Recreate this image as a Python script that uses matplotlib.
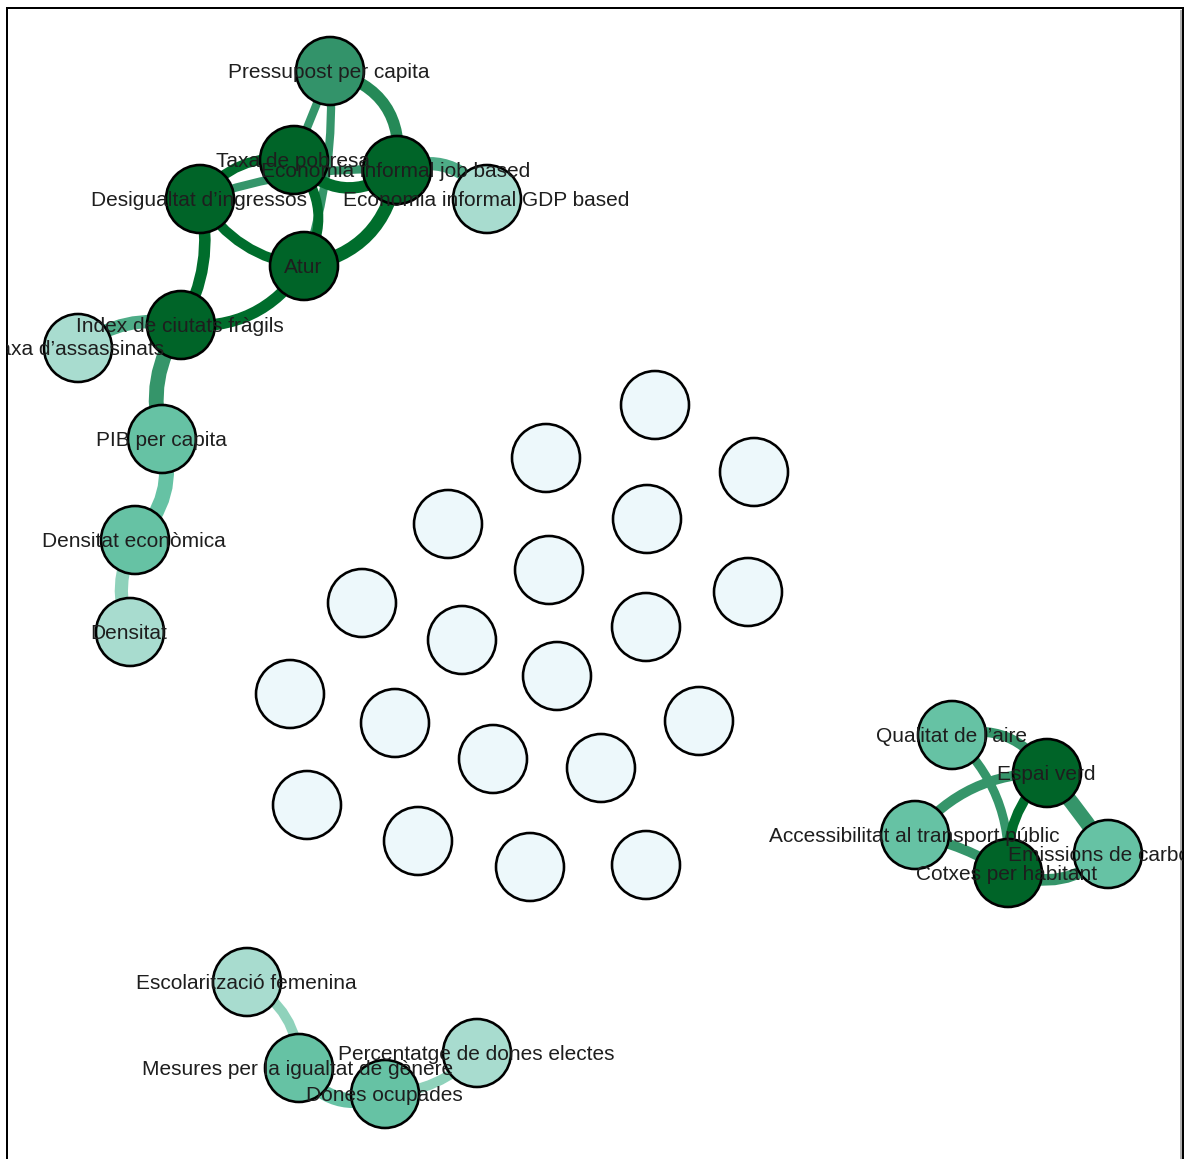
import numpy as np
import matplotlib
matplotlib.use("Agg")
import matplotlib.pyplot as plt
from matplotlib.path import Path
from matplotlib.patches import PathPatch, Circle
from matplotlib.colors import LinearSegmentedColormap

# ---- nodes (layout in px, score level 0..4) ----
names = ["Pressupost per capita", "Taxa de pobresa", "Economia informal job based",
         "Desigualtat d’ingressos", "Economia informal GDP based", "Atur",
         "Index de ciutats fràgils", "Taxa d’assassinats", "PIB per capita",
         "Densitat econòmica", "Densitat",
         "Qualitat de l’aire", "Espai verd", "Accessibilitat al transport públic",
         "Emissions de carboni", "Cotxes per habitant",
         "Escolarització femenina", "Mesures per la igualtat de gènere",
         "Percentatge de dones electes", "Dones ocupades"]
node_x = [330, 294, 397, 200, 487, 304, 181, 78, 162, 135, 130,
          952, 1047, 915, 1108, 1008,
          247, 299, 477, 385]
node_y = [71, 160, 170, 199, 199, 266, 325, 348, 439, 540, 632,
          735, 773, 835, 854, 873,
          982, 1068, 1053, 1094]
node_level = [3, 4, 4, 4, 1, 4, 4, 1, 2, 2, 1,
              2, 4, 2, 2, 4,
              1, 2, 1, 2]

# isolated indicators (no links)
iso_x = [655, 546, 754, 448, 647, 549, 362, 748, 462, 646,
         557, 290, 395, 699, 493, 601, 307, 418, 530, 646]
iso_y = [405, 458, 472, 524, 519, 570, 603, 592, 640, 627,
         676, 694, 723, 721, 759, 768, 805, 841, 867, 865]

# ---- edges ----
edge_src = ["Pressupost per capita", "Pressupost per capita", "Pressupost per capita",
            "Taxa de pobresa", "Desigualtat d’ingressos", "Desigualtat d’ingressos",
            "Economia informal job based", "Taxa de pobresa", "Desigualtat d’ingressos",
            "Economia informal job based", "Desigualtat d’ingressos", "Atur",
            "Index de ciutats fràgils", "Index de ciutats fràgils", "PIB per capita",
            "Densitat econòmica",
            "Qualitat de l’aire", "Qualitat de l’aire", "Accessibilitat al transport públic",
            "Accessibilitat al transport públic", "Espai verd", "Espai verd",
            "Emissions de carboni",
            "Escolarització femenina", "Mesures per la igualtat de gènere", "Dones ocupades"]
edge_dst = ["Economia informal job based", "Taxa de pobresa", "Atur",
            "Economia informal job based", "Taxa de pobresa", "Economia informal job based",
            "Economia informal GDP based", "Atur", "Atur",
            "Atur", "Index de ciutats fràgils", "Index de ciutats fràgils",
            "Taxa d’assassinats", "PIB per capita", "Densitat econòmica",
            "Densitat",
            "Espai verd", "Cotxes per habitant", "Espai verd",
            "Cotxes per habitant", "Cotxes per habitant", "Emissions de carboni",
            "Cotxes per habitant",
            "Mesures per la igualtat de gènere", "Dones ocupades", "Percentatge de dones electes"]
edge_weight = [3.3, 3.0, 3.0, 4.0, 4.0, 3.0, 2.5, 4.0, 4.0, 4.0, 4.0, 4.0, 2.5, 3.0, 2.0, 1.5,
               3.0, 3.0, 3.0, 3.0, 4.0, 3.0, 3.0,
               1.5, 2.0, 1.5]
edge_count = [3.5, 2.5, 2.5, 3.5, 3.0, 2.5, 4.0, 3.0, 3.0, 4.0, 3.5, 3.5, 4.0, 4.5, 4.5, 4.0,
              3.0, 2.7, 3.0, 3.0, 3.0, 4.5, 3.5,
              3.0, 4.5, 3.0]
edge_bend = [0.22, 0.0, 0.05, -0.22, 0.15, 0.05, 0.2, 0.18, -0.12, 0.18, 0.1, 0.15, -0.12, -0.12, 0.15, -0.12,
             0.18, 0.12, 0.12, 0.05, -0.12, 0.02, 0.15,
             0.15, -0.2, -0.1]

node_colors = ["#edf8fb", "#a8dccf", "#66c2a4", "#33936a", "#006428"]
edge_cmap = LinearSegmentedColormap.from_list(
    "edges", [(0.0, "#8fd2bb"), (0.2, "#66c2a4"), (0.6, "#35956a"), (1.0, "#006d2c")])

W, H = 1188, 1159
PX = 0.72  # points per pixel at dpi 100
fig = plt.figure(figsize=(W / 100, H / 100), dpi=100)
bottom_px = 1172
ax = fig.add_axes([7 / W, (H - bottom_px) / H, (1183 - 7) / W, (bottom_px - 8) / H])
ax.set_xlim(7, 1183)
ax.set_ylim(bottom_px, 8)
ax.set_xticks([])
ax.set_yticks([])
for s in ax.spines.values():
    s.set_linewidth(2 * PX)
    s.set_color("black")

pos = {n: (x, y) for n, x, y in zip(names, node_x, node_y)}

# edges, lighter first; control point at twice the bulge of the curve midpoint
order = np.argsort(edge_weight, kind="stable")
for i in order:
    (x0, y0), (x1, y1) = pos[edge_src[i]], pos[edge_dst[i]]
    dx, dy = x1 - x0, y1 - y0
    k = 2 * edge_bend[i]
    cx = (x0 + x1) / 2 + k * dy
    cy = (y0 + y1) / 2 - k * dx
    p = Path([(x0, y0), (cx, cy), (x1, y1)], [Path.MOVETO, Path.CURVE3, Path.CURVE3])
    c = edge_cmap((edge_weight[i] - 1.5) / 2.5)
    ax.add_patch(PathPatch(p, fill=False, edgecolor=c, lw=edge_count[i] * 3.3 * PX,
                           capstyle="butt", zorder=1))

R = 34
for x, y in zip(iso_x, iso_y):
    ax.add_patch(Circle((x, y), R, facecolor=node_colors[0], edgecolor="black",
                        lw=2.6 * PX, zorder=2))

for n, x, y, lv in zip(names, node_x, node_y, node_level):
    ax.add_patch(Circle((x, y), R, facecolor=node_colors[lv], edgecolor="black",
                        lw=2.6 * PX, zorder=2))

for n, x, y in zip(names, node_x, node_y):
    ax.text(x - 1, y + 1.5, n, ha="center", va="center", fontsize=15,
            family="Liberation Sans", color="#1e1e1e", zorder=3, clip_on=True)

# faint shadow next to the right border
ax.plot([1180.5, 1180.5], [10, bottom_px], color="#b0b0b0", lw=2 * PX, zorder=0,
        solid_capstyle="butt")

fig.savefig("out.png", dpi=100)
